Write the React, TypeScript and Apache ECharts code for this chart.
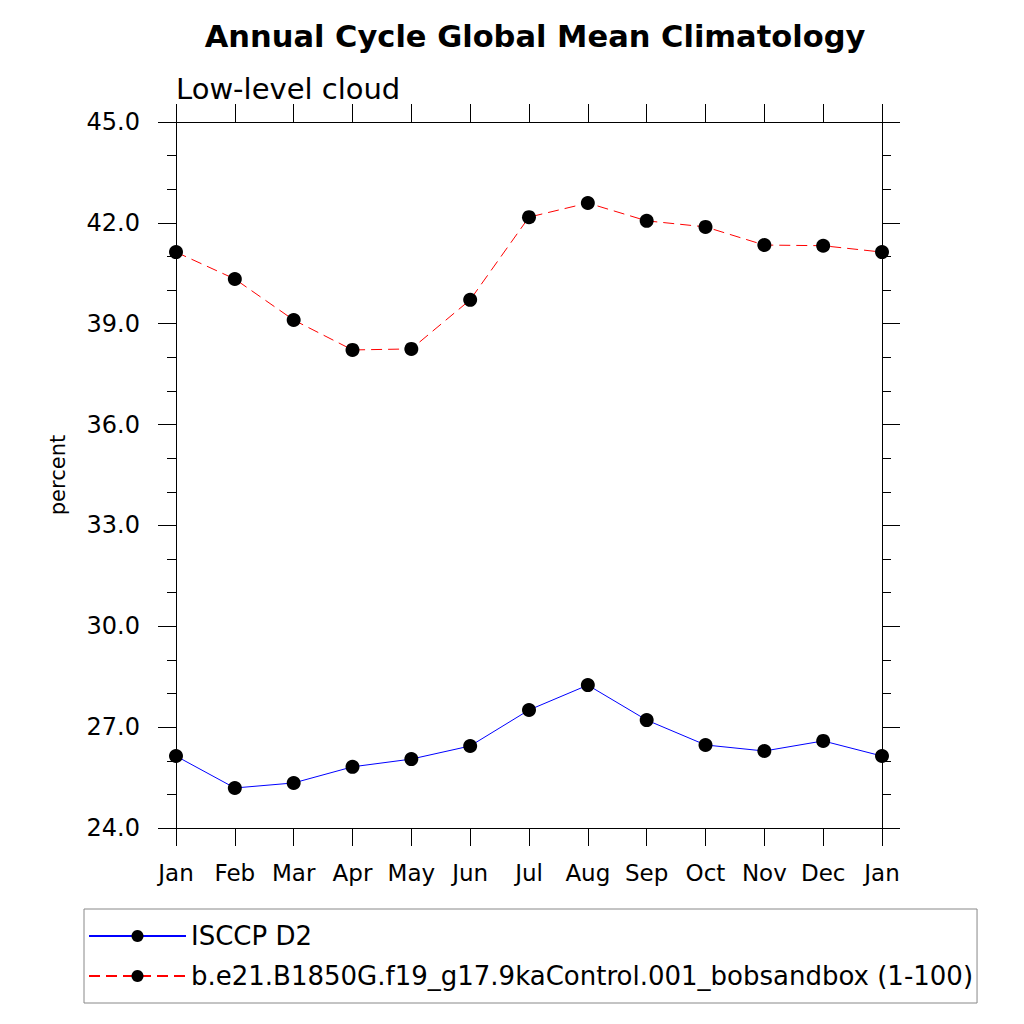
import React, { useEffect, useRef } from "react";
import * as echarts from "echarts";

const months = ["Jan", "Feb", "Mar", "Apr", "May", "Jun", "Jul", "Aug", "Sep", "Oct", "Nov", "Dec", "Jan"];
const isccp = [26.14, 25.19, 25.34, 25.82, 26.05, 26.44, 27.51, 28.25, 27.21, 26.47, 26.29, 26.59, 26.14];
const model = [41.13, 40.33, 39.11, 38.22, 38.25, 39.71, 42.17, 42.59, 42.06, 41.88, 41.34, 41.32, 41.13];
const seriesNames = ["ISCCP D2", "b.e21.B1850G.f19_g17.9kaControl.001_bobsandbox (1-100)"];
const yMin = 24;
const yMax = 45;
const yStep = 3;

const FONT = "'DejaVu Sans', 'Liberation Sans', Arial, sans-serif";

export default function App() {
  const ref = useRef<HTMLDivElement>(null);
  useEffect(() => {
    if (!ref.current) return;
    const chart = echarts.init(ref.current, undefined, { renderer: "svg" });
    const toPairs = (arr: number[]) => arr.map((v, i) => [i, v]);
    const baseX = {
      type: "value",
      min: 0,
      max: months.length - 1,
      interval: 1,
      splitLine: { show: false },
      axisLine: { show: true, onZero: false, lineStyle: { color: "#000", width: 1 } },
      axisTick: { show: true, inside: false, length: 18, lineStyle: { color: "#000", width: 1 } },
    };
    const baseY = {
      type: "value",
      min: yMin,
      max: yMax,
      interval: yStep,
      splitLine: { show: false },
      axisLine: { show: true, onZero: false, lineStyle: { color: "#000", width: 1 } },
      axisTick: { show: true, inside: false, length: 18, lineStyle: { color: "#000", width: 1 } },
      minorTick: { show: true, splitNumber: 3, length: 9, lineStyle: { color: "#000", width: 1 } },
      minorSplitLine: { show: false },
    };
    chart.setOption({
      animation: false,
      backgroundColor: "#fff",
      textStyle: { fontFamily: FONT },
      title: [
        {
          text: "Annual Cycle Global Mean Climatology",
          left: 530,
          textAlign: "center",
          top: 16,
          textStyle: { fontFamily: FONT, fontSize: 30.5, fontWeight: "bold", color: "#000" },
        },
        {
          text: "Low-level cloud",
          left: 171,
          top: 69,
          textStyle: { fontFamily: FONT, fontSize: 29, fontWeight: "normal", color: "#000" },
        },
      ],
      grid: { left: 176, right: 142, top: 122, bottom: 196, containLabel: false },
      legend: {
        orient: "vertical",
        left: 84,
        top: 909,
        padding: [14, 4, 14, 4],
        itemGap: 14,
        itemWidth: 97,
        itemHeight: 15,
        borderColor: "#888",
        borderWidth: 1,
        textStyle: { fontFamily: FONT, fontSize: 26, color: "#000" },
        data: seriesNames,
      },
      xAxis: [
        {
          ...baseX,
          position: "bottom",
          axisLabel: {
            show: true,
            margin: 33,
            fontFamily: FONT,
            fontSize: 23,
            color: "#000",
            formatter: (v: number) => months[Math.round(v)] ?? "",
          },
        },
        {
          ...baseX,
          position: "top",
          axisLabel: { show: false },
        },
      ],
      yAxis: [
        {
          ...baseY,
          position: "left",
          name: "percent",
          nameLocation: "middle",
          nameGap: 108,
          nameTextStyle: { fontFamily: FONT, fontSize: 21, color: "#000" },
          axisLabel: {
            show: true,
            margin: 36,
            fontFamily: FONT,
            fontSize: 24,
            color: "#000",
            formatter: (v: number) => v.toFixed(1),
          },
        },
        {
          ...baseY,
          position: "right",
          axisLabel: { show: false },
        },
      ],
      series: [
        {
          name: seriesNames[0],
          type: "line",
          data: toPairs(isccp),
          symbol: "circle",
          symbolSize: 14,
          itemStyle: { color: "#000" },
          lineStyle: { color: "#0000ff", width: 1, type: "solid" },
          z: 3,
        },
        {
          name: seriesNames[1],
          type: "line",
          data: toPairs(model),
          symbol: "circle",
          symbolSize: 14,
          itemStyle: { color: "#000" },
          lineStyle: { color: "#ff0000", width: 1, type: [11, 6] },
          z: 3,
        },
      ],
    });
    return () => chart.dispose();
  }, []);
  return (
    <div
      ref={ref}
      style={{ position: "fixed", left: 0, top: 0, width: 1024, height: 1024, background: "#fff" }}
    />
  );
}
